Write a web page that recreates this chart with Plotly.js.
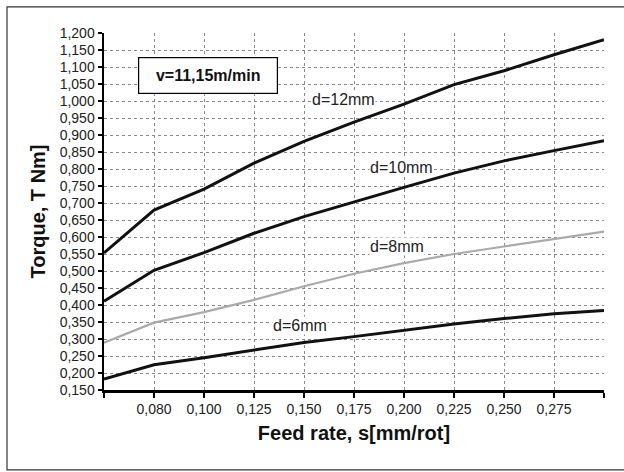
<!DOCTYPE html>
<html>
<head>
<meta charset="utf-8">
<script src="https://cdn.plot.ly/plotly-3.0.1.min.js"></script>
<style>
html,body{margin:0;padding:0;background:#fff;}
#chart{width:624px;height:472px;}
</style>
</head>
<body>
<div id="chart"></div>
<script>
// Feed rate categories (first and last positions are unlabeled in the reference)
const feedLabels = ['', '0,080', '0,100', '0,125', '0,150', '0,175', '0,200', '0,225', '0,250', '0,275', ''];
const feedIndex = [0, 1, 2, 3, 4, 5, 6, 7, 8, 9, 10];

// Torque T [Nm] for each drill diameter
const torque12 = [0.553, 0.679, 0.741, 0.817, 0.881, 0.938, 0.991, 1.048, 1.089, 1.136, 1.180];
const torque10 = [0.411, 0.502, 0.554, 0.611, 0.660, 0.704, 0.746, 0.788, 0.824, 0.854, 0.883];
const torque8  = [0.289, 0.348, 0.379, 0.415, 0.455, 0.492, 0.523, 0.550, 0.572, 0.594, 0.616];
const torque6  = [0.182, 0.224, 0.245, 0.267, 0.290, 0.307, 0.326, 0.344, 0.360, 0.374, 0.384];

const seriesNames = ['d=12mm', 'd=10mm', 'd=8mm', 'd=6mm'];
const yTicks = [0.15,0.20,0.25,0.30,0.35,0.40,0.45,0.50,0.55,0.60,0.65,0.70,0.75,0.80,0.85,0.90,0.95,1.00,1.05,1.10,1.15,1.20];

const font = 'Arial, "Liberation Sans", sans-serif';

function line(y, name, color, width) {
  return {x: feedIndex, y: y, name: name, type: 'scatter', mode: 'lines',
          line: {color: color, width: width, shape: 'linear'}, hoverinfo: 'skip'};
}

const data = [
  line(torque12, seriesNames[0], '#111111', 3),
  line(torque10, seriesNames[1], '#111111', 3),
  line(torque8,  seriesNames[2], '#aaaaaa', 2.2),
  line(torque6,  seriesNames[3], '#111111', 3)
];

const labelStyle = {showarrow: false, font: {family: font, size: 16, color: '#222'},
                    bgcolor: '#ffffff', borderpad: 0, xref: 'x', yref: 'y'};

const layout = {
  width: 624, height: 472,
  margin: {l: 104, r: 20, t: 33, b: 82},
  paper_bgcolor: '#ffffff', plot_bgcolor: '#ffffff',
  showlegend: false,
  separators: ',.',
  font: {family: font, size: 14, color: '#222'},
  xaxis: {
    range: [0, 10], tickvals: feedIndex, ticktext: feedLabels,
    showgrid: true, gridcolor: '#8a8a8a', gridwidth: 1, griddash: 'dot',
    showline: true, linecolor: '#000', linewidth: 2.5, zeroline: false,
    ticks: 'outside', ticklen: 5, tickwidth: 2, tickcolor: '#000',
    tickfont: {family: font, size: 14, color: '#222'},
    title: {text: 'Feed rate, s[mm/rot]', standoff: 10,
            font: {family: font, size: 20, color: '#111', weight: 'bold'}}
  },
  yaxis: {
    range: [0.15, 1.2], tickvals: yTicks, tickformat: '.3f',
    showgrid: true, gridcolor: '#8a8a8a', gridwidth: 1, griddash: 'dot',
    showline: true, linecolor: '#000', linewidth: 2.5, zeroline: false,
    ticks: 'outside', ticklen: 4, tickwidth: 1.5, tickcolor: '#000',
    tickfont: {family: font, size: 14, color: '#222'},
    title: {text: 'Torque, T Nm]', standoff: 9,
            font: {family: font, size: 20, color: '#111', weight: 'bold'}}
  },
  shapes: [
    {type: 'rect', xref: 'x domain', yref: 'y domain', x0: -0.194, x1: 1.06, y0: -0.224, y1: 1.073,
     line: {color: '#333', width: 1.2}, layer: 'below'}
  ],
  annotations: [
    {text: '<b>v=11,15m/min</b>', x: 2.07, y: 1.076, xref: 'x', yref: 'y', showarrow: false,
     font: {family: font, size: 16, color: '#111'}, bgcolor: '#ffffff',
     bordercolor: '#000', borderwidth: 1.2, width: 136, height: 33, borderpad: 1},
    Object.assign({text: seriesNames[0], x: 4.78, y: 1.003}, labelStyle),
    Object.assign({text: seriesNames[1], x: 5.94, y: 0.803}, labelStyle),
    Object.assign({text: seriesNames[2], x: 5.86, y: 0.571}, labelStyle),
    Object.assign({text: seriesNames[3], x: 3.92, y: 0.341}, labelStyle)
  ]
};

Plotly.newPlot('chart', data, layout, {staticPlot: true, displayModeBar: false});
</script>
</body>
</html>
